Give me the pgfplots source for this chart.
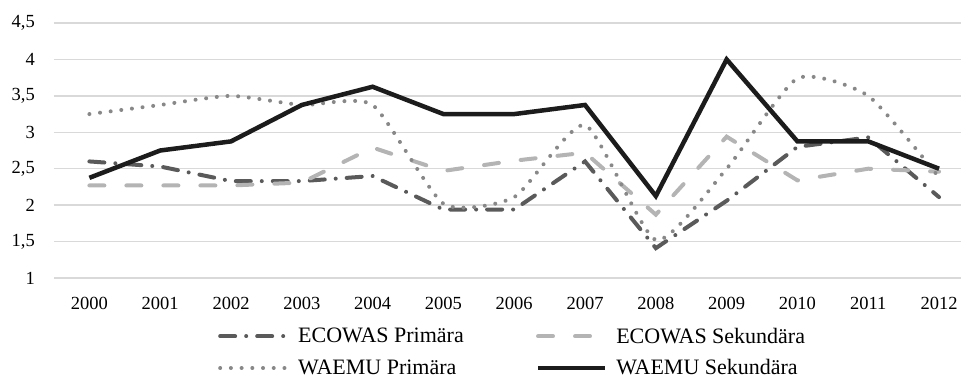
\documentclass[border=0pt]{standalone}
\usepackage{fontspec}
\setmainfont{Liberation Serif}
\usepackage{pgfplots}
\pgfplotsset{compat=1.18}
\definecolor{ecp}{HTML}{5A5A5A}
\definecolor{ecs}{HTML}{B4B4B4}
\definecolor{wp}{HTML}{888888}
\definecolor{ws}{HTML}{1C1C1C}
\definecolor{gridc}{HTML}{D9D9D9}
\begin{document}
\begin{tikzpicture}
\begin{axis}[
  scale only axis, width=907pt, height=255pt,
  xmin=-0.5, xmax=12.31, ymin=1, ymax=4.5,
  axis line style={draw=none},
  major tick length=0pt,
  xtick={0,1,2,3,4,5,6,7,8,9,10,11,12},
  xticklabels={2000,2001,2002,2003,2004,2005,2006,2007,2008,2009,2010,2011,2012},
  ytick={1,1.5,2,2.5,3,3.5,4,4.5},
  ymajorgrids,
  grid style={color=gridc, line width=1.4pt},
  /pgf/number format/use comma,
  /pgf/number format/assume math mode=true,
  tick label style={font=\fontsize{18.5}{21}\selectfont, inner sep=0pt},
  yticklabel style={anchor=east, xshift=-19pt},
  xticklabel style={anchor=north, yshift=-19pt},
  clip=false,
  legend columns=2,
  legend cell align=left,
  legend style={draw=none, fill=none, at={(0.1808,-0.1949)}, anchor=north west,
    font=\fontsize{22}{25}\selectfont, inner sep=0pt,
    nodes={inner sep=0pt},
    /tikz/every odd column/.append style={column sep=9pt},
    /tikz/every even column/.append style={column sep=72pt},
    row sep=15pt},
  legend image code/.code={\draw[#1] (0pt,0pt) -- (67pt,0pt);},
]
\coordinate (sw) at (rel axis cs:0,0);
\coordinate (ne) at (rel axis cs:1,1);
\addplot[ecp, line width=4pt, line cap=round, dash pattern=on 15pt off 11pt on 0.01pt off 11pt] coordinates {
(0,2.6) (1,2.53) (2,2.33) (3,2.33) (4,2.4) (5,1.94) (6,1.94) (7,2.6) (8,1.41) (9,2.06) (10,2.8) (11,2.93) (12,2.11)};
\addlegendentry{ECOWAS Primära}
\addplot[ecs, line width=4pt, line cap=round, dash pattern=on 15pt off 22pt] coordinates {
(0,2.27) (1,2.27) (2,2.27) (3,2.31) (4,2.79) (5,2.47) (6,2.61) (7,2.72) (8,1.87) (9,2.94) (10,2.34) (11,2.5) (12,2.46)};
\addlegendentry{ECOWAS Sekundära}
\addplot[wp, line width=4pt, line cap=round, dash pattern=on 0.01pt off 10.7pt, smooth, tension=0.35] coordinates {
(0,3.25) (1,3.375) (2,3.5) (3,3.375) (4,3.375) (5,2.02) (6,2.11) (7,3.1) (8,1.52) (9,2.5) (10,3.74) (11,3.5) (12,2.38)};
\addlegendentry{WAEMU Primära}
\addplot[ws, line width=4.5pt, line join=miter] coordinates {
(0,2.375) (1,2.75) (2,2.875) (3,3.375) (4,3.625) (5,3.25) (6,3.25) (7,3.375) (8,2.125) (9,4.0) (10,2.875) (11,2.875) (12,2.5)};
\addlegendentry{WAEMU Sekundära}
\end{axis}
\pgfresetboundingbox
\path ([shift={(-54pt,-102pt)}]sw) rectangle ([shift={(0pt,23pt)}]ne);
\end{tikzpicture}
\end{document}
